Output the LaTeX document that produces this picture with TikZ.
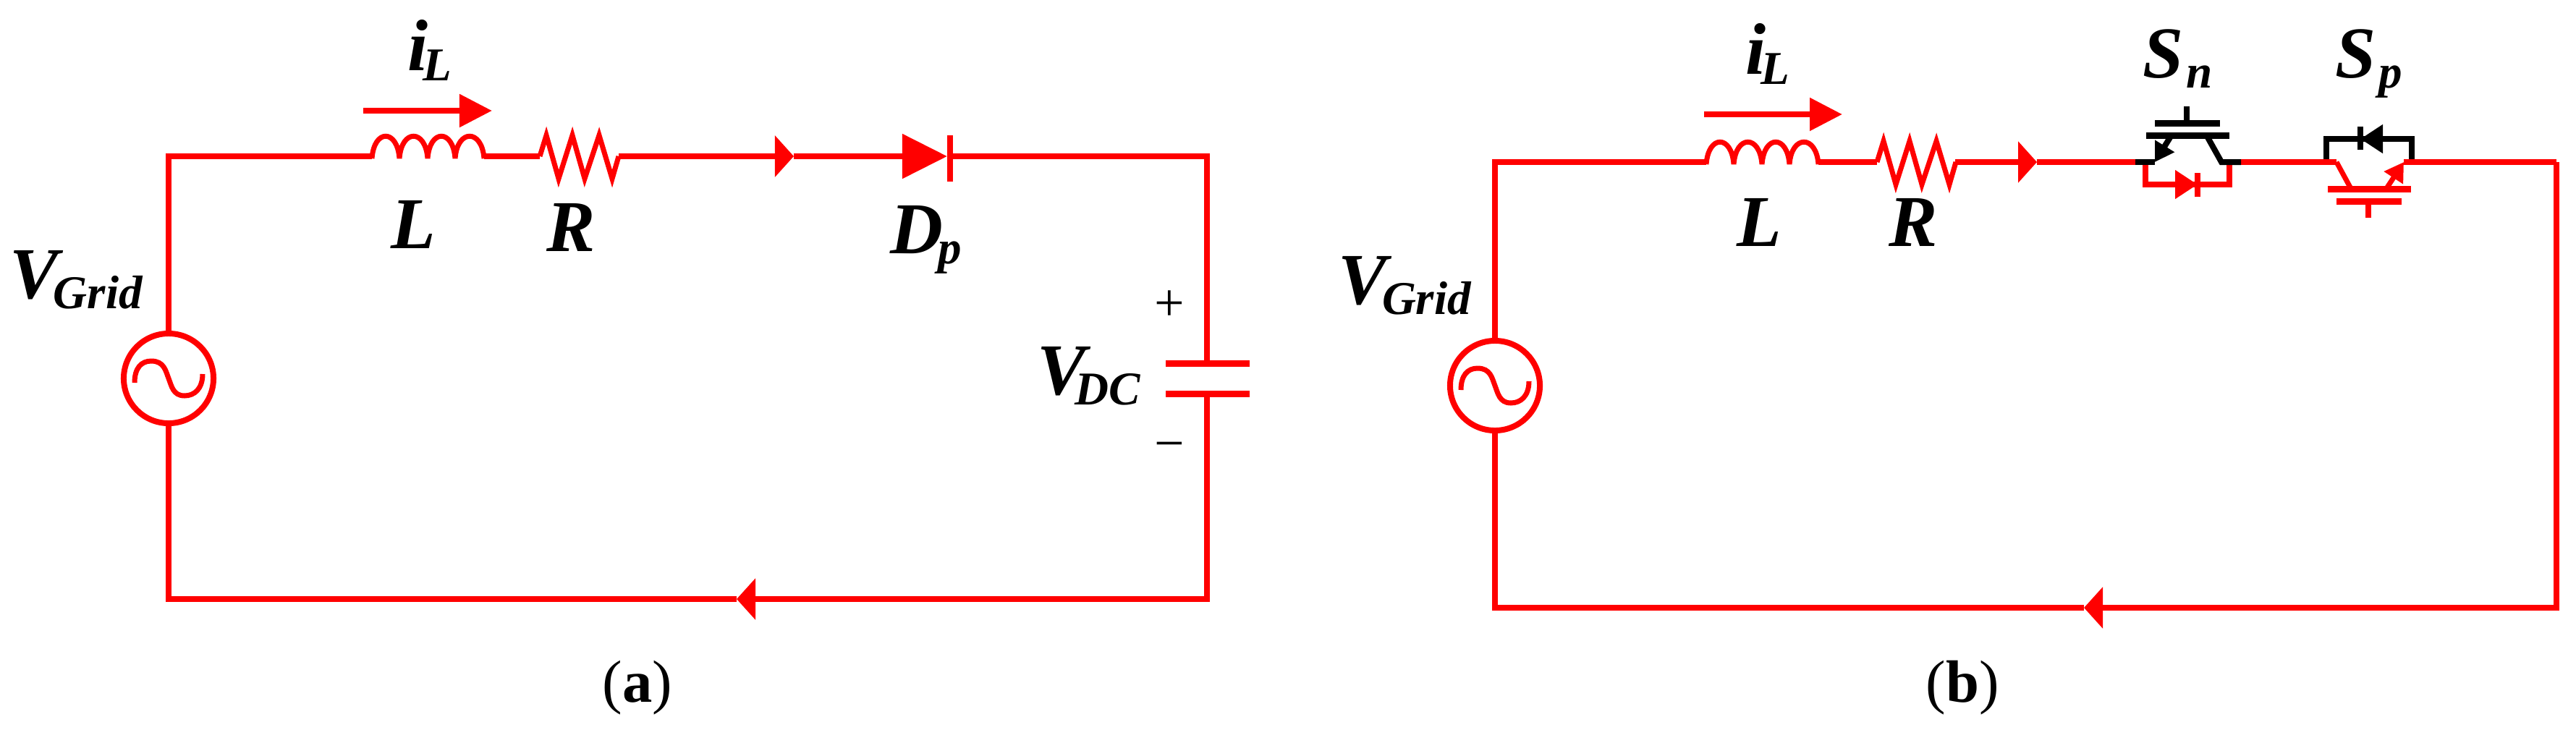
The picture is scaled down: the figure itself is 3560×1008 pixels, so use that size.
\documentclass[tikz,border=0pt]{standalone}
\usepackage{fontspec}
\setmainfont{Liberation Serif}
\usetikzlibrary{arrows.meta}
\newcommand{\subtxt}[3][-2pt]{#2\kern#1\raisebox{-4pt}{\fontsize{18.5}{20}\selectfont #3}}
\tikzset{
	wire/.style={red,line width=0.085cm},
	swline/.style={black,line width=0.08cm},
	plate/.style={line width=0.09cm},
	thinpart/.style={red,line width=0.07cm},
	flowtip/.style={-{Triangle[length=0.26cm,width=0.56cm]}},
	diodetip/.style={-{Triangle[length=0.62cm,width=0.6cm]}},
	smalldiode/.style={-{Triangle[length=0.31cm,width=0.38cm]}},
	currenttip/.style={-{Triangle[length=0.45cm,width=0.44cm]}},
	emittertip/.style={-{Triangle[length=0.26cm,width=0.3cm]}},
	srcnode/.style={circle,draw=red,line width=0.08cm,minimum size=1.24cm,inner sep=0pt},
	lbl/.style={inner sep=0pt,anchor=base west,font=\bfseries\itshape\fontsize{28.7}{30}\selectfont},
	signlbl/.style={inner sep=0pt,anchor=base,font=\fontsize{21}{23}\selectfont},
	caplbl/.style={inner sep=0pt,anchor=base west,font=\fontsize{23.5}{26}\selectfont},
	coilpart/.pic={
		\draw[thinpart] (0,0) -- (0,3) .. controls (3,-38) and (35,-38) .. (38,3)
			.. controls (41,-38) and (74,-38) .. (77,3)
			.. controls (80,-38) and (112,-38) .. (115,3)
			.. controls (118,-38) and (152,-38) .. (155,3) -- (155,0);
	},
	respart/.pic={
		\draw[thinpart] (0,0) -- (9,-29) -- (26,31) -- (45,-29) -- (62,31) -- (82,-29) -- (100,31) -- (109,0);
	},
	sinepart/.pic={
		\draw[red,line width=0.07cm] (-47,6) .. controls (-47,-14) and (-38,-24) .. (-24,-24)
			.. controls (-6,-24) and (-4,-10) .. (0,0)
			.. controls (4,10) and (6,24) .. (22,24)
			.. controls (36,24) and (47,14) .. (47,-6);
	}
}
\begin{document}
\begin{tikzpicture}[x=0.01cm,y=-0.01cm]
	\useasboundingbox (0,0) rectangle (3560,1008);
	\node [srcnode] (src1) at (233,523) {};
	\coordinate (coilA1) at (514,216);
	\coordinate (coilB1) at (669,216);
	\coordinate (resA1) at (746,216);
	\coordinate (resB1) at (855,216);
	\coordinate (flowT1) at (1097,216);
	\coordinate (dpT1) at (1309,216);
	\coordinate (capT1) at (1668,502);
	\coordinate (capB1) at (1668,544);
	\coordinate (flowB1) at (1018,828);
	\coordinate (curA1) at (502,153);
	\coordinate (curB1) at (680,153);
	\pic at (src1) {sinepart};
	\pic at (coilA1) {coilpart};
	\pic at (resA1) {respart};
	\draw[wire] (src1.north) |- (coilA1);
	\draw[wire] (coilB1) -- (resA1);
	\draw[wire,flowtip] (resB1) -- (flowT1);
	\draw[wire,diodetip] (flowT1) -- (dpT1);
	\draw[wire] (dpT1) -| (capT1);
	\draw[wire,flowtip] (capB1) |- (flowB1);
	\draw[wire] (flowB1) -| (src1.south);
	\draw[wire] (dpT1) ++(4,-29) -- ++(0,64);
	\draw[red,plate] (capT1) ++(-57,0) -- ++(116,0);
	\draw[red,plate] (capB1) ++(-57,0) -- ++(116,0);
	\draw[wire,currenttip] (curA1) -- (curB1);
	\node [lbl] (vgrid1) at (13,412) {\subtxt{V}{Grid}};
	\node [lbl] (il1) at (563,97) {\subtxt{i}{L}};
	\node [lbl] (l1) at (540,343) {L};
	\node [lbl] (r1) at (755,347) {R};
	\node [lbl] (dp1) at (1230,350) {\subtxt{D}{p}};
	\node [lbl] (vdc1) at (1433,545) {\subtxt[-4.5pt]{V}{DC}};
	\node [signlbl] (plus1) at (1616,443) {+};
	\node [signlbl] (minus1) at (1616,637) {−};
	\node [caplbl] (cap1) at (832,970) {(\textbf{a})};

	\node [srcnode] (src2) at (2066,533) {};
	\coordinate (coilA2) at (2358,224);
	\coordinate (coilB2) at (2513,224);
	\coordinate (resA2) at (2594,224);
	\coordinate (resB2) at (2702,224);
	\coordinate (flowT2) at (2815,224);
	\coordinate (snE) at (2978,224);
	\coordinate (snL) at (2951,224);
	\coordinate (snR) at (3097,224);
	\coordinate (snC) at (3070,224);
	\coordinate (snDa) at (2965,224);
	\coordinate (snDb) at (3081,224);
	\coordinate (snDt) at (3037,255);
	\coordinate (spC) at (3229,224);
	\coordinate (spE) at (3322,224);
	\coordinate (spLa) at (3215,224);
	\coordinate (spLb) at (3333,224);
	\coordinate (spDt) at (3262,192);
	\coordinate (corner2) at (3533,224);
	\coordinate (flowB2) at (2880,840);
	\coordinate (curA2) at (2355,158);
	\coordinate (curB2) at (2546,158);
	\pic at (src2) {sinepart};
	\pic at (coilA2) {coilpart};
	\pic at (resA2) {respart};
	\draw[wire] (src2.north) |- (coilA2);
	\draw[wire] (coilB2) -- (resA2);
	\draw[wire,flowtip] (resB2) -- (flowT2);
	\draw[wire] (flowT2) -- (snL);
	\draw[wire] (snDa) |- (snDt);
	\draw[wire] (snDt) -| (snDb);
	\draw[wire,smalldiode] (3000,255) -- (snDt);
	\draw[wire] (snDt) ++(0,-16) -- ++(0,33);
	\draw[swline] (spLb) |- (spDt);
	\draw[swline] (spDt) -| (spLa);
	\draw[swline,smalldiode] (3295,192) -- (spDt);
	\draw[swline] (spDt) ++(0,-17) -- ++(0,32);
	\draw[wire] (snR) -- (spC);
	\draw[wire] (spE) -- (corner2);
	\draw[wire,flowtip] (corner2) |- (flowB2);
	\draw[wire] (flowB2) -| (src2.south);
	\draw[swline] (snL) -- (snE);
	\draw[swline,emittertip] (2999,190) -- (snE);
	\draw[swline] (3051,190) -- (snC) -- (snR);
	\draw[black,plate] (2966,187) -- (3081,187);
	\draw[black,plate] (2978,170) -- (3068,170);
	\draw[swline] (3022,147) -- (3022,170);
	\draw[red,line width=0.07cm] (spC) -- (3248,259);
	\draw[red,line width=0.07cm,emittertip] (3299,259) -- (spE);
	\draw[red,plate] (3217,261) -- (3332,261);
	\draw[red,plate] (3229,278) -- (3319,278);
	\draw[wire] (3273,278) -- (3273,301);
	\draw[wire,currenttip] (curA2) -- (curB2);
	\node [lbl] (vgrid2) at (1849,420) {\subtxt{V}{Grid}};
	\node [lbl] (il2) at (2412,102) {\subtxt{i}{L}};
	\node [lbl] (l2) at (2400,340) {L};
	\node [lbl] (r2) at (2610,340) {R};
	\node [lbl] (sn) at (2961,107) {\subtxt[1pt]{S}{n}};
	\node [lbl] (sp) at (3227,107) {\subtxt[1pt]{S}{p}};
	\node [caplbl] (cap2) at (2661,970) {(\textbf{b})};
\end{tikzpicture}
\end{document}
